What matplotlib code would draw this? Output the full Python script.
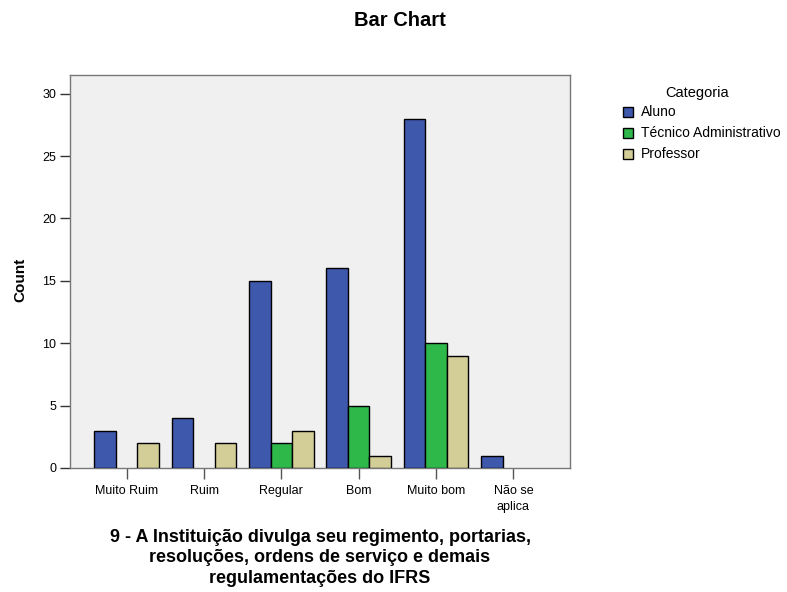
import matplotlib
matplotlib.use("Agg")
import matplotlib.pyplot as plt
import numpy as np
from matplotlib.patches import Rectangle

plt.rcParams['font.family'] = ['Liberation Sans', 'DejaVu Sans']

categories = ["Muito Ruim", "Ruim", "Regular", "Bom", "Muito bom", "Não se\naplica"]
series_names = ["Aluno", "Técnico Administrativo", "Professor"]
aluno = [3, 4, 15, 16, 28, 1]
tecnico = [0, 0, 2, 5, 10, 0]
professor = [2, 2, 3, 1, 9, 0]
y_ticks = [0, 5, 10, 15, 20, 25, 30]

colors = ["#3e58ac", "#2fb84a", "#d3ce97"]

fig = plt.figure(figsize=(7.87, 5.92), dpi=100)
fig.patch.set_facecolor("white")
ax = fig.add_axes([70 / 787, 1 - 468 / 592, 500 / 787, (468 - 75) / 592])
ax.set_facecolor("#f0f0f0")

x = np.arange(len(categories))
w = 0.278
for i, (vals, c, name) in enumerate(zip([aluno, tecnico, professor], colors, series_names)):
    vals = np.asarray(vals, dtype=float)
    keep = vals > 0  # empty counts get no bar outline
    ax.bar(x[keep] + (i - 1) * w, vals[keep], width=w, color=c, edgecolor="black",
           linewidth=1.0, label=name, zorder=3)

ax.set_xlim(-0.733, 5.733)
ax.set_ylim(0, 31.5)
ax.set_yticks(y_ticks)
ax.set_xticks(x)
ax.set_xticklabels(categories, fontsize=9, linespacing=1.45, va="top")
ax.tick_params(axis="y", labelsize=9, length=7, width=1, color="#333333", pad=3)
ax.tick_params(axis="x", length=8, width=1, color="#555555", pad=4)
for s in ax.spines.values():
    s.set_color("#777777")
    s.set_linewidth(1)

fig.text(400 / 787, 1 - 20 / 592, "Bar Chart", ha="center", va="center",
         fontsize=14.5, fontweight="bold")
fig.text(20 / 787, 1 - 280 / 592, "Count", ha="center", va="center",
         rotation=90, fontsize=11, fontweight="bold")
fig.text(320 / 787, 1 - 558 / 592,
         "9 - A Instituição divulga seu regimento, portarias,\n"
         "resoluções, ordens de serviço e demais\n"
         "regulamentações do IFRS",
         ha="center", va="center", fontsize=13, fontweight="bold",
         linespacing=1.3)

# legend drawn beside the plot area
fig.text(697 / 787, 1 - 93 / 592, "Categoria", ha="center", va="center", fontsize=10.5)
for i, (name, c) in enumerate(zip(series_names, colors)):
    yc = 112 + i * 21
    fig.patches.append(Rectangle((623 / 787, 1 - (yc + 5) / 592), 10 / 787, 10 / 592,
                                 transform=fig.transFigure, facecolor=c,
                                 edgecolor="black", linewidth=1))
    fig.text(641 / 787, 1 - yc / 592, name, ha="left", va="center", fontsize=10)

fig.savefig("out.png", dpi=100)
